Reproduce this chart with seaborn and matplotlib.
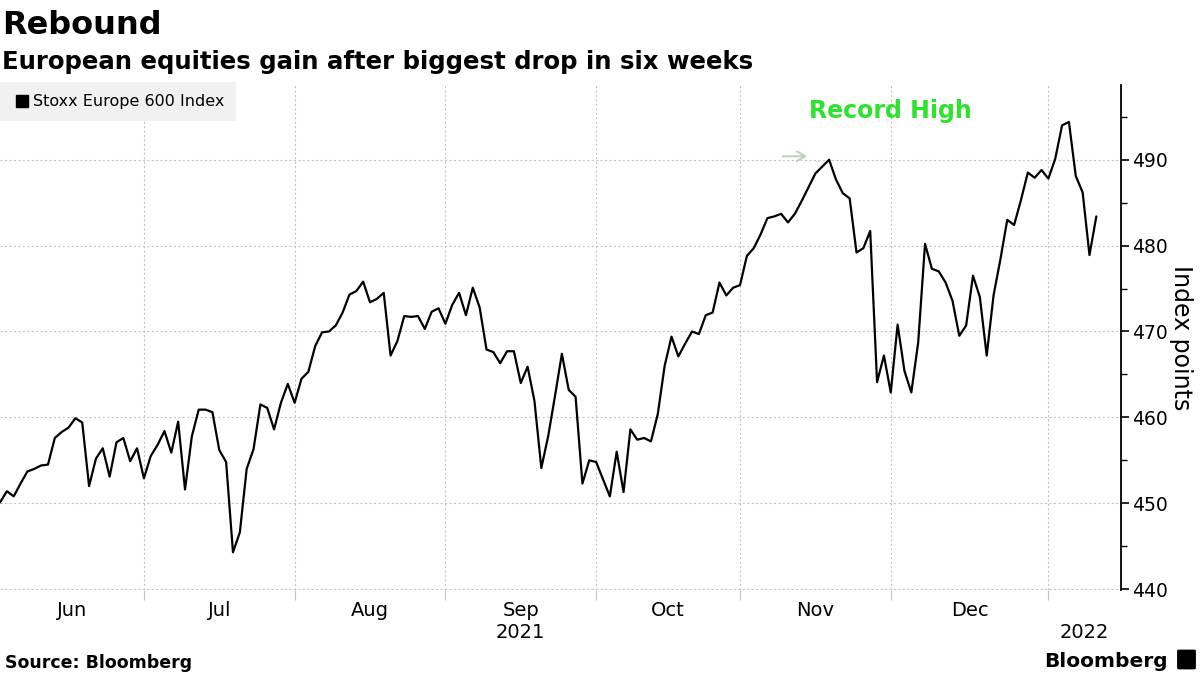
import numpy as np
import pandas as pd
import matplotlib.pyplot as plt
import seaborn as sns
from matplotlib.lines import Line2D
from matplotlib.patches import FancyBboxPatch
from matplotlib.ticker import FixedLocator, MultipleLocator

# Stoxx Europe 600, daily closes Jun 2021 - Jan 2022
sessions_per_month = [21, 22, 22, 22, 21, 22, 23, 8]   # Jun .. Jan
month_labels = ["Jun", "Jul", "Aug", "Sep\n2021", "Oct", "Nov", "Dec", "\n2022"]

stoxx_jun_jul = [450.1, 451.4, 450.8, 452.3, 453.7, 454.0, 454.4, 454.5, 457.6, 458.3,
                 458.8, 459.9, 459.4, 452.0, 455.2, 456.4, 453.1, 457.1, 457.6, 454.9,
                 456.4, 452.9, 455.5, 456.8, 458.4, 455.9, 459.5, 451.6, 457.8, 460.9,
                 460.9, 460.6, 456.2, 454.8, 444.3, 446.6, 454.0, 456.3, 461.5, 461.1,
                 458.6, 461.7, 463.9]
stoxx_aug_sep = [461.7, 464.5, 465.3, 468.3, 469.9, 470.0, 470.7, 472.2, 474.3, 474.7,
                 475.8, 473.4, 473.8, 474.5, 467.2, 468.9, 471.8, 471.7, 471.8, 470.3,
                 472.3, 472.7, 470.9, 473.1, 474.5, 471.9, 475.1, 472.8, 467.9, 467.6,
                 466.3, 467.7, 467.7, 464.0, 465.9, 461.9, 454.1, 457.8, 462.5, 467.4,
                 463.2, 462.4, 452.3, 455.0]
stoxx_oct_nov = [454.8, 452.8, 450.8, 456.0, 451.3, 458.6, 457.4, 457.6, 457.2, 460.4,
                 466.0, 469.4, 467.1, 468.6, 470.0, 469.7, 471.9, 472.2, 475.7, 474.2,
                 475.1, 475.4, 478.8, 479.7, 481.3, 483.2, 483.4, 483.7, 482.7, 483.7,
                 485.2, 486.8, 488.4, 489.2, 490.0, 487.7, 486.1, 485.5, 479.2, 479.7,
                 481.7, 464.1, 467.2]
stoxx_dec_jan = [462.9, 470.8, 465.4, 462.9, 468.7, 480.2, 477.3, 477.0, 475.7, 473.6,
                 469.5, 470.7, 476.5, 474.0, 467.2, 474.2, 478.4, 483.0, 482.4, 485.3,
                 488.5, 487.9, 488.8, 487.8, 490.1, 494.0, 494.4, 488.1, 486.2, 478.9,
                 483.4]

values = stoxx_jun_jul + stoxx_aug_sep + stoxx_oct_nov + stoxx_dec_jan
df = pd.DataFrame({"session": np.arange(len(values)), "index_points": values})

month_starts = np.cumsum(sessions_per_month)[:-1]

sns.set_style("white")
plt.rcParams["font.family"] = ["DejaVu Sans"]
plt.rcParams["text.color"] = "black"
plt.rcParams["axes.labelcolor"] = "black"

fig = plt.figure(figsize=(12, 6.75), dpi=100)
ax = fig.add_axes([0.0, 1 - 590 / 675, 1121 / 1200, 505 / 675])

sns.lineplot(data=df, x="session", y="index_points", ax=ax, color="black",
             linewidth=1.6, legend=False)

xmax = 163.6
ax.set_xlim(0, xmax)
ax.set_ylim(439.9, 498.7)

# grid
for v in range(440, 500, 10):
    ax.axhline(v, color="#c4c4c4", lw=0.8, ls=(0, (2, 2)), zorder=0)
for m in month_starts:
    ax.axvline(m, color="#c4c4c4", lw=0.8, ls=(0, (2, 2)), zorder=0)

# x axis: boundary ticks + centred month labels
edges = np.concatenate([[0], month_starts, [xmax]])
centres = (edges[:-1] + edges[1:]) / 2
ax.xaxis.set_major_locator(FixedLocator(month_starts))
ax.xaxis.set_minor_locator(FixedLocator(centres))
ax.set_xticklabels([], minor=False)
ax.set_xticklabels(month_labels, minor=True)
ax.tick_params(axis="x", which="major", length=7, width=0.8, color="#c4c4c4",
               direction="out", bottom=True)
ax.tick_params(axis="x", which="minor", length=0, labelsize=14, pad=8,
               labelcolor="black")

# y axis on the right
ax.yaxis.tick_right()
ax.yaxis.set_label_position("right")
ax.set_yticks(range(440, 500, 10))
ax.yaxis.set_minor_locator(MultipleLocator(5))
ax.tick_params(axis="y", which="major", length=6, width=1.2, color="black",
               labelsize=13.5, labelcolor="black", pad=2, right=True, left=False)
ax.tick_params(axis="y", which="minor", length=4, width=1, color="black",
               right=True, left=False)
ax.set_ylabel("Index points", fontsize=17, rotation=270, labelpad=18)
ax.set_xlabel("")

for side in ["left", "top", "bottom"]:
    ax.spines[side].set_visible(False)
ax.spines["right"].set_color("black")
ax.spines["right"].set_linewidth(1.3)

# legend box
handle = Line2D([], [], marker="s", ls="", color="black", markersize=8)
leg = ax.legend([handle], ["Stoxx Europe 600 Index"], loc="upper left",
                bbox_to_anchor=(0.0, 1.005), frameon=True, fancybox=False,
                facecolor="#f1f1f1", edgecolor="none", framealpha=1,
                fontsize=11.5, handletextpad=0.1, borderpad=0.75,
                handlelength=1.2, borderaxespad=0)

# record high annotation
ax.text(118, 494.9, "Record High", color="#2de32d", fontsize=17,
        fontweight="bold", va="baseline", ha="left")
ax.annotate("", xy=(118.2, 490.4), xytext=(113.8, 490.4),
            arrowprops=dict(arrowstyle="->,head_length=0.6,head_width=0.35",
                            color="#bfd1b4", lw=1.4))

# titles and footer
fig.text(0.002, 1 - 34 / 675, "Rebound", fontsize=23, fontweight="bold",
         va="baseline", ha="left")
fig.text(0.002, 1 - 69 / 675, "European equities gain after biggest drop in six weeks",
         fontsize=17.6, fontweight="bold", va="baseline", ha="left")
fig.text(0.004, 1 - 668 / 675, "Source: Bloomberg", fontsize=12.5,
         fontweight="bold", va="baseline", ha="left")
fig.text(1168 / 1200, 1 - 667 / 675, "Bloomberg", fontsize=14.5,
         fontweight="bold", va="baseline", ha="right")
fig.patches.append(FancyBboxPatch((1179 / 1200, 1 - 668 / 675), 15 / 1200, 17 / 675,
                                  boxstyle="round,pad=0.001", transform=fig.transFigure,
                                  facecolor="black", edgecolor="black"))

fig.savefig("out.png", dpi=100)
